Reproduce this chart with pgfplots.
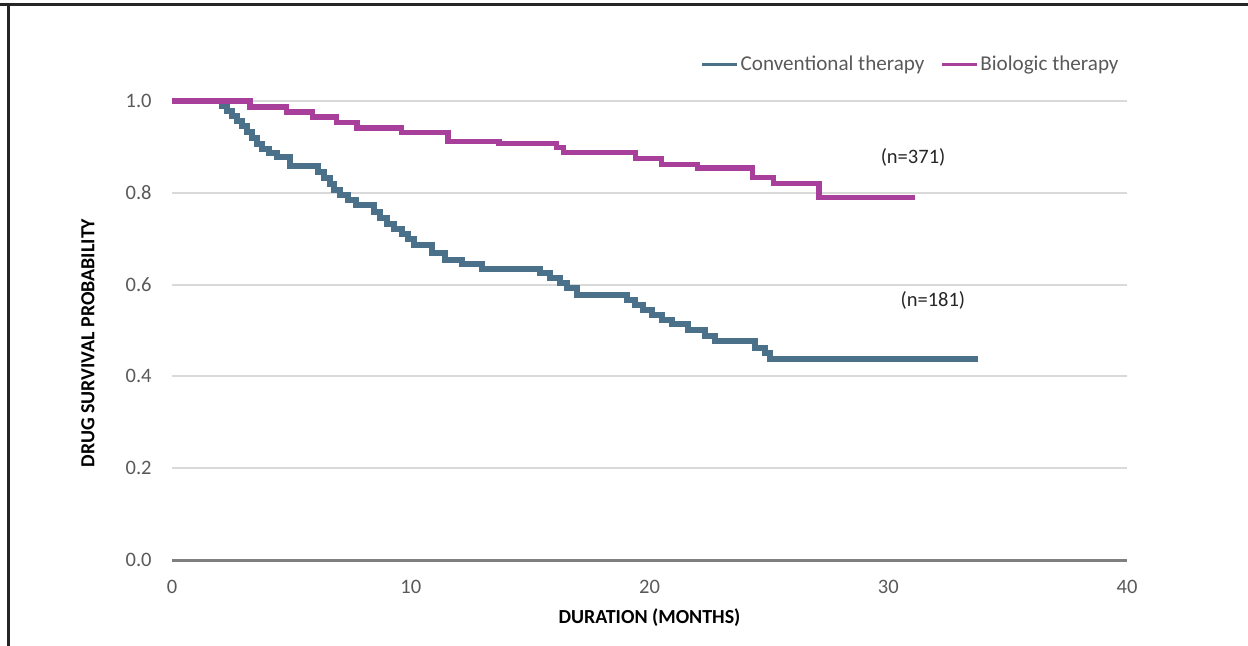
\documentclass[border=0pt]{standalone}
\usepackage{fontspec}
\setmainfont{Carlito}
\usepackage{pgfplots}
\pgfplotsset{compat=1.18}
\definecolor{conv}{HTML}{4A7189}
\definecolor{bio}{HTML}{A8409B}
\definecolor{navy}{HTML}{1F2D4E}
\definecolor{tickgray}{HTML}{595959}
\definecolor{gridgray}{HTML}{D9D9D9}
\definecolor{axgray}{HTML}{7F7F7F}
\begin{document}
\begin{tikzpicture}
\path[use as bounding box] (0,0) rectangle (624bp,323bp);
\draw[line width=1.5bp, black!85] (0,320.5bp) -- (624bp,320.5bp);
\draw[line width=1.5bp, black!85] (4bp,0) -- (4bp,320.5bp);
\begin{axis}[
  at={(86bp,43bp)}, anchor=south west,
  scale only axis, width=477.5bp, height=229.5bp,
  xmin=0, xmax=40, ymin=0, ymax=1,
  xtick={0,10,20,30,40}, ytick={0,0.2,0.4,0.6,0.8,1.0},
  yticklabel style={/pgf/number format/fixed, /pgf/number format/fixed zerofill, /pgf/number format/precision=1},
  /pgf/number format/assume math mode=true,
  major tick length=0pt,
  axis x line*=bottom, axis y line*=left,
  x axis line style={draw=axgray, line width=1.5bp, -},
  y axis line style={draw=none},
  ymajorgrids, grid style={gridgray, line width=1bp},
  tick label style={font=\fontsize{10.3}{12}\selectfont, text=tickgray},
  yticklabel style={inner sep=0pt, xshift=-10bp},
  xticklabel style={inner sep=0pt, yshift=-10bp},
  xlabel={\textbf{DURATION (MONTHS)}},
  ylabel={\textbf{DRUG SURVIVAL PROBABILITY}},
  label style={font=\fontsize{10.3}{12}\selectfont, text=navy},
  every axis x label/.style={at={(axis description cs:0.5,-0.126)}, anchor=center},
  every axis y label/.style={at={(axis description cs:-0.088,0.473)}, anchor=center, rotate=90},
  legend style={draw=none, fill=none, inner sep=0pt, at={(axis description cs:0.9937,1.079)}, anchor=east,
    font=\fontsize{10.6}{12}\selectfont, text=tickgray,
    nodes={inner xsep=1bp},
    /tikz/every even column/.append style={column sep=7bp}},
  legend columns=2,
  legend image code/.code={\draw[#1, line width=1.4bp] (0bp,0bp) -- (17.5bp,0bp);},
  clip=false,
]
\addplot[conv, line width=3bp, const plot, line cap=butt] coordinates {
(0,1.0) (2.09,0.989) (2.30,0.978) (2.51,0.967) (2.72,0.956) (2.93,0.946)
(3.14,0.932) (3.35,0.919) (3.56,0.906) (3.77,0.895) (4.06,0.887) (4.40,0.878)
(4.94,0.858) (6.12,0.845) (6.37,0.832) (6.62,0.819) (6.79,0.806) (7.04,0.795)
(7.37,0.784) (7.71,0.773) (8.46,0.758) (8.71,0.745) (9.0,0.732) (9.3,0.721)
(9.63,0.710) (9.9,0.699) (10.14,0.686) (10.89,0.669) (11.43,0.654) (12.15,0.645)
(13.0,0.634) (15.41,0.625) (15.83,0.614) (16.25,0.603) (16.54,0.593) (16.96,0.578)
(19.06,0.566) (19.39,0.556) (19.73,0.545) (20.1,0.534) (20.52,0.523) (20.94,0.514)
(21.61,0.501) (22.32,0.488) (22.74,0.477) (24.42,0.462) (24.84,0.451) (25.05,0.438)
(33.76,0.438)
};
\addlegendentry{Conventional therapy}
\addplot[bio, line width=2.6bp, const plot, line cap=butt] coordinates {
(0,1.0) (3.27,0.987) (4.8,0.976) (5.9,0.965) (6.9,0.954) (7.75,0.941)
(9.6,0.931) (11.56,0.912) (13.7,0.907) (16.1,0.899) (16.4,0.887) (19.4,0.874)
(20.5,0.861) (22.0,0.854) (24.3,0.834) (25.2,0.820) (27.1,0.789) (31.1,0.789)
};
\addlegendentry{Biologic therapy}
\node[font=\fontsize{10.3}{12}\selectfont, text=black!85] at (axis cs:31.04,0.876) {(n=371)};
\node[font=\fontsize{10.3}{12}\selectfont, text=black!85] at (axis cs:31.87,0.566) {(n=181)};
\end{axis}
\end{tikzpicture}
\end{document}
